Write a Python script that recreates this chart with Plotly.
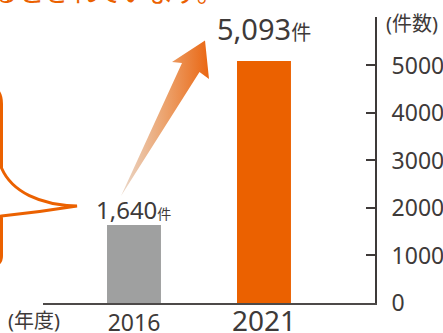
import plotly.graph_objects as go

# ---- data -------------------------------------------------------------
years = ["2016", "2021"]
cases = [1640, 5093]
bar_colors = ["#9fa0a0", "#eb6100"]
y_tick_vals = [0, 1000, 2000, 3000, 4000, 5000]
y_tick_text = ["0", "1000", "2000", "3000", "4000", "5000"]
unit_label = "件"
y_title = "(件数)"
x_title = "(年度)"
headline = "増加しているとされています。"

# ---- styling ----------------------------------------------------------
INK = "#3e3a39"
ORANGE = "#eb6100"
FONT = "Noto Sans, Noto Sans CJK JP, sans-serif"
year_sizes = [23, 28]
value_sizes = [24, 29]
unit_sizes = [14, 20]
value_shift = [-3, 11]

W, H = 443, 333
ML, MR, MT, MB = 43, 68, 17, 30
PW, PH = W - ML - MR, H - MT - MB


def paper_x(x):
    return (x - ML) / PW


def paper_y(y):
    return (H - MB - y) / PH


def paper_path(cmds):
    out = []
    for op, *pts in cmds:
        coords = " ".join(f"{paper_x(x):.4f},{paper_y(y):.4f}" for x, y in pts)
        out.append(f"{op} {coords}")
    return " ".join(out)


fig = go.Figure()

fig.add_trace(go.Bar(
    x=years, y=cases, width=0.415,
    marker=dict(color=bar_colors, line=dict(width=0)),
    hoverinfo="skip",
))

# growth arrow, drawn on a pixel-space overlay axis pair
arrow_x = [121, 182, 172, 205, 209, 199.5, 121]
arrow_y = [196, 63, 62, 40.5, 79, 72, 196]
fig.add_trace(go.Scatter(
    x=arrow_x, y=arrow_y, xaxis="x2", yaxis="y2",
    mode="lines", line=dict(width=0), fill="toself",
    fillgradient=dict(type="horizontal",
                      colorscale=[[0, "#ead8ca"], [0.5, "#eca26c"], [1, "#ea6510"]],
                      start=121, stop=210),
    hoverinfo="skip",
))

annotations = []
for i, (v, vs, us, sh) in enumerate(zip(cases, value_sizes, unit_sizes, value_shift)):
    annotations.append(dict(
        x=i, y=v, xref="x", yref="y", xanchor="center", yanchor="bottom",
        yshift=sh, showarrow=False,
        text=f"{v:,}<span style='font-size:{us}px'>{unit_label}</span>",
        font=dict(family=FONT, size=vs, color=INK),
    ))

annotations += [
    dict(x=paper_x(440), y=paper_y(8), xref="paper", yref="paper",
         xanchor="right", yanchor="top", showarrow=False, text=y_title,
         font=dict(family=FONT, size=20, color=INK)),
    dict(x=paper_x(6), y=paper_y(305), xref="paper", yref="paper",
         xanchor="left", yanchor="top", showarrow=False, text=x_title,
         font=dict(family=FONT, size=20, color=INK)),
    dict(x=paper_x(-139), y=paper_y(11), xref="paper", yref="paper",
         xanchor="left", yanchor="bottom", showarrow=False, text=headline,
         font=dict(family="Noto Sans CJK JP", size=26, color=ORANGE)),
]

bubble = paper_path([
    ("M", (-10, 86)),
    ("C", (-2, 88), (1.5, 94), (1.5, 104)),
    ("L", (1.5, 168)),
    ("C", (12, 192), (40, 205), (77, 206)),
    ("Q", (40, 212), (1.5, 216)),
    ("L", (1.5, 256)),
    ("C", (1.5, 262), (-2, 266), (-10, 268)),
])

tick_text_x = [f"<span style='font-size:{s}px'>{y}</span>" for y, s in zip(years, year_sizes)]

fig.update_layout(
    template="none",
    width=W, height=H,
    margin=dict(l=ML, r=MR, t=MT, b=MB, autoexpand=False),
    paper_bgcolor="white", plot_bgcolor="white",
    showlegend=False,
    font=dict(family=FONT, color=INK),
    xaxis=dict(
        type="category", range=[-0.7, 1.854], automargin=False,
        tickmode="array", tickvals=years, ticktext=tick_text_x,
        tickfont=dict(size=23, color=INK), ticklabelstandoff=-2,
        showline=True, linewidth=2, linecolor="#4d4a49",
        showgrid=False, zeroline=False, ticks="",
        fixedrange=True,
    ),
    yaxis=dict(
        range=[0, 6020], side="right", automargin=False,
        tickmode="array", tickvals=y_tick_vals, ticktext=y_tick_text,
        ticks="inside", ticklen=9, tickwidth=2, tickcolor=INK,
        tickfont=dict(size=23, color=INK), ticklabelstandoff=10,
        showline=True, linewidth=2, linecolor=INK,
        showgrid=False, zeroline=False, fixedrange=True,
    ),
    xaxis2=dict(overlaying="x", range=[ML, W - MR], visible=False, fixedrange=True),
    yaxis2=dict(overlaying="y", range=[H - MB, MT], visible=False, fixedrange=True),
    shapes=[dict(type="path", xref="paper", yref="paper", path=bubble,
                 line=dict(color=ORANGE, width=3), fillcolor="rgba(0,0,0,0)")],
    annotations=annotations,
)

fig.write_html("out.html", config={"displayModeBar": False})
